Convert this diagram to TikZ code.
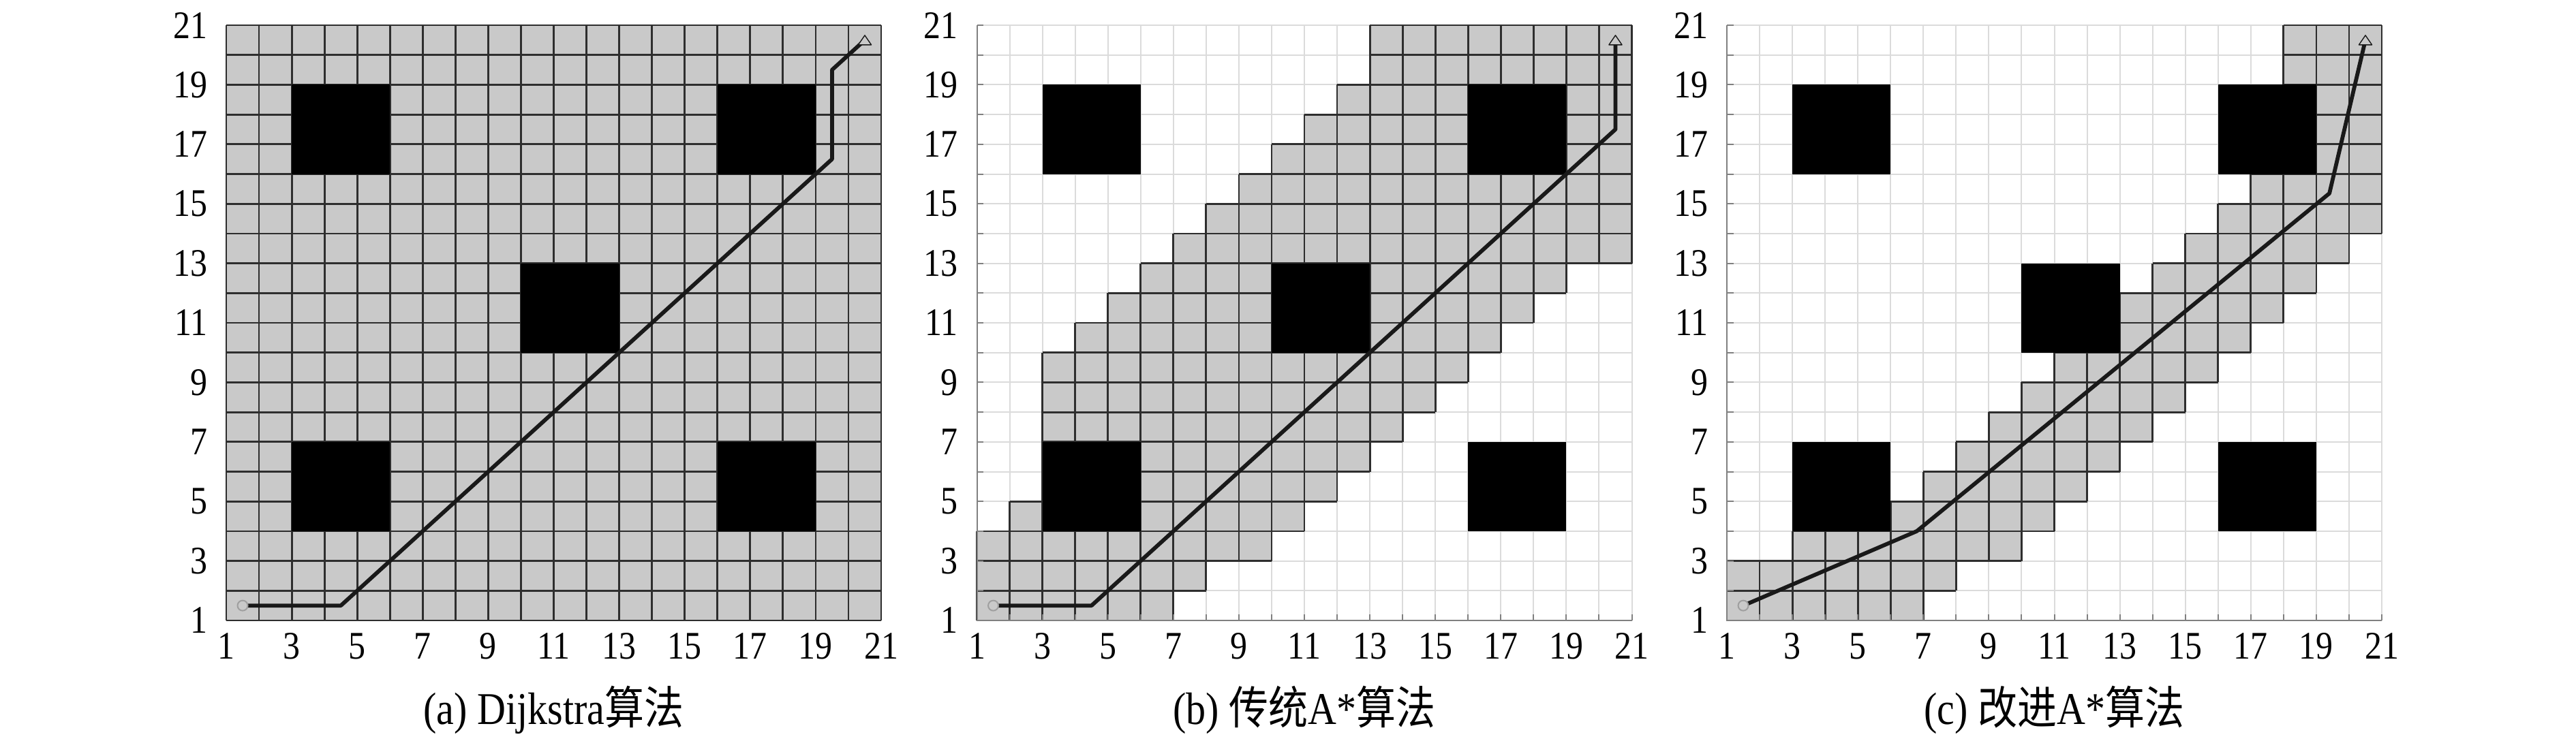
\documentclass[tikz,border=0pt]{standalone}
\usepackage{fontspec}
\setmainfont{Liberation Serif}
\newfontfamily\cjk{Noto Sans CJK SC}
\definecolor{cellgray}{gray}{0.79}
\definecolor{darkline}{gray}{0.18}
\definecolor{lightline}{gray}{0.86}
\definecolor{axisgray}{gray}{0.5}
\definecolor{pathcol}{gray}{0.1}
\newcommand{\vlab}[1]{\scalebox{1}[1.15]{#1}}
\tikzset{
  explored/.style={fill=cellgray},
  darkgrid/.style={draw=darkline, line width=0.028cm},
  lightgrid/.style={draw=lightline, line width=0.02cm},
  obstacle/.style={fill=black},
  route/.style={draw=pathcol, line width=0.058cm, line join=round, line cap=round},
  ticklab/.style={font=\fontsize{14.2}{16}\selectfont, inner sep=0pt},
  captionlab/.style={font=\fontsize{16.5}{19}\selectfont, inner sep=0pt, anchor=base},
  startmark/.style={circle, draw=gray!75, fill=cellgray, line width=0.02cm, minimum size=0.15cm, inner sep=0pt},
  goalmark/.style={draw=pathcol, fill=cellgray, line width=0.014cm, line join=round},
  axisline/.style={draw=axisgray, line width=0.02cm}
}
\newcommand{\drawobstacles}{%
  \fill[obstacle] (3,16) rectangle (6,19);
  \fill[obstacle] (16,16) rectangle (19,19);
  \fill[obstacle] (10,10) rectangle (13,13);
  \fill[obstacle] (3,4) rectangle (6,7);
  \fill[obstacle] (16,4) rectangle (19,7);
}
\newcommand{\ticklabels}[1]{%
  \foreach \i in {1,3,...,21} {
    \node[ticklab, anchor=base] (#1x\i) at ([yshift=-0.56cm]\i,1) {\vlab{\i}};
    \node[ticklab, anchor=east] (#1y\i) at ([xshift=-0.27cm]1,\i) {\vlab{\i}};
  }
}
\newcommand{\exploredrows}[1]{%
  \foreach \r/\a/\b in {#1} {
    \fill[explored] (\a,\r) rectangle (\b,\r+1);
  }
  \foreach \r/\a/\b in {#1} {
    \draw[darkgrid] (\a,\r) -- (\b,\r) (\a,\r+1) -- (\b,\r+1);
    \foreach \c in {\a,...,\b} \draw[darkgrid] (\c,\r) -- (\c,\r+1);
  }
}
\newcommand{\lightgridall}{%
  \foreach \i in {1,...,21} {
    \draw[lightgrid] (\i,1) -- (\i,21);
    \draw[lightgrid] (1,\i) -- (21,\i);
  }
}
\newcommand{\axesticks}{%
  \draw[axisline] (1,21) -- (1,1) -- (21,1);
  \foreach \i in {1,...,21} {
    \draw[axisline] (\i,1) -- ++(0,0.2);
    \draw[axisline] (1,\i) -- ++(0.2,0);
  }
}
\newcommand{\goaltri}[1]{%
  \draw[goalmark] (#1) ++(-0.2,-0.16) -- ++(0.4,0) -- ++(-0.2,0.32) -- cycle;
}
\begin{document}
\begin{tikzpicture}
\fill[white] (0,0) rectangle (37.8,10.87);
\useasboundingbox (0,0) rectangle (37.8,10.87);

% ---------------- (a) Dijkstra ----------------
\begin{scope}[shift={(2.8395cm,1.323cm)}, x=0.4805cm, y=0.437cm]
  \fill[explored] (1,1) rectangle (21,21);
  \foreach \i in {1,...,21} {
    \draw[darkgrid] (\i,1) -- (\i,21);
    \draw[darkgrid] (1,\i) -- (21,\i);
  }
  \drawobstacles
  \coordinate (aS) at (1.5,1.5);
  \coordinate (aG) at (20.5,20.5);
  \draw[route] (aS) -- (4.5,1.5) -- (19.5,16.5) -- (19.5,19.5) -- (aG);
  \node[startmark] (aStart) at (aS) {};
  \goaltri{aG}
  \ticklabels{a}
  \node[captionlab] (capa) at ([yshift=-1.52cm]11,1) {\vlab{(a) Dijkstra{\cjk 算法}}};
\end{scope}

% ---------------- (b) traditional A* ----------------
\begin{scope}[shift={(13.8545cm,1.323cm)}, x=0.4805cm, y=0.437cm]
  \lightgridall
  \exploredrows{1/1/7, 2/1/8, 3/1/10, 4/2/11, 5/3/12, 6/3/13, 7/3/14, 8/3/15, 9/3/16,
    10/4/17, 11/5/18, 12/6/19, 13/7/21, 14/8/21, 15/9/21, 16/10/21, 17/11/21,
    18/12/21, 19/13/21, 20/13/21}
  \drawobstacles
  \axesticks
  \coordinate (bS) at (1.5,1.5);
  \coordinate (bG) at (20.5,20.5);
  \draw[route] (bS) -- (4.5,1.5) -- (20.5,17.5) -- (bG);
  \node[startmark] (bStart) at (bS) {};
  \goaltri{bG}
  \ticklabels{b}
  \node[captionlab] (capb) at ([yshift=-1.52cm]11,1) {\vlab{(b) {\cjk 传统}A*{\cjk 算法}}};
\end{scope}

% ---------------- (c) improved A* ----------------
\begin{scope}[shift={(24.8595cm,1.323cm)}, x=0.4805cm, y=0.437cm]
  \lightgridall
  \exploredrows{1/1/7, 2/1/8, 3/3/10, 4/6/11, 5/7/12, 6/8/13, 7/9/14, 8/10/15, 9/11/16,
    10/13/17, 11/13/18, 12/14/19, 13/15/20, 14/16/21, 15/17/21, 16/19/21, 17/19/21,
    18/19/21, 19/18/21, 20/18/21}
  \drawobstacles
  \axesticks
  \coordinate (cS) at (1.5,1.5);
  \coordinate (cG) at (20.5,20.5);
  \draw[route] (cS) -- (6.8,4.0) -- (19.4,15.35) -- (cG);
  \node[startmark] (cStart) at (cS) {};
  \goaltri{cG}
  \ticklabels{c}
  \node[captionlab] (capc) at ([yshift=-1.52cm]11,1) {\vlab{(c) {\cjk 改进}A*{\cjk 算法}}};
\end{scope}
\end{tikzpicture}
\end{document}
